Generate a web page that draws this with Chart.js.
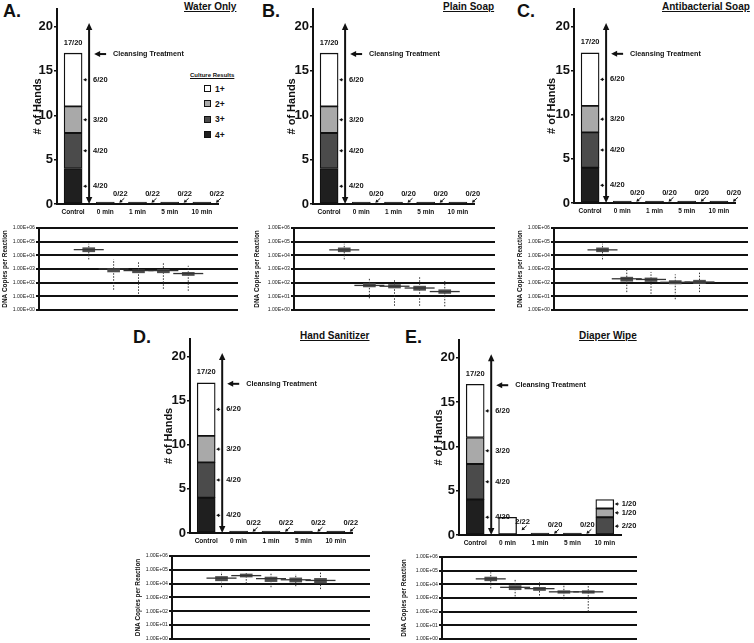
<!DOCTYPE html>
<html>
<head>
<meta charset="utf-8">
<script src="https://cdn.jsdelivr.net/npm/chart.js@4.4.1/dist/chart.umd.min.js"></script>
<style>
  body { margin: 0; background: #fff; font-family: "Liberation Sans", Arial, sans-serif; color: #111; }
  #fig { position: relative; width: 754px; height: 643px; overflow: hidden; }
  canvas { position: absolute; }
  .lbl { position: absolute; font-weight: bold; white-space: nowrap; line-height: 1; }
  .pl { font-size: 18px; }
  .tt { font-size: 10px; text-decoration: underline; }
</style>
</head>
<body>
<div id="fig">
  <div class="lbl pl" style="left:3px;top:2px">A.</div>
  <div class="lbl tt" style="left:184px;top:2px">Water Only</div>
  <div class="lbl pl" style="left:262px;top:2px">B.</div>
  <div class="lbl tt" style="left:443px;top:2px">Plain Soap</div>
  <div class="lbl pl" style="left:517px;top:2px">C.</div>
  <div class="lbl tt" style="left:662px;top:2px">Antibacterial Soap</div>
  <div class="lbl pl" style="left:133px;top:328px">D.</div>
  <div class="lbl tt" style="left:300px;top:331px">Hand Sanitizer</div>
  <div class="lbl pl" style="left:405px;top:328px">E.</div>
  <div class="lbl tt" style="left:579px;top:331px">Diaper Wipe</div>
  <div class="lbl" style="left:190px;top:72px;font-size:6px;text-decoration:underline">Culture Results</div>
  <div id="legend"></div>
</div>
<script>
// categories
const cats = ['Control', '0 min', '1 min', '5 min', '10 min'];
const grades = ['4+', '3+', '2+', '1+'];

// # of hands per culture grade (panels A-D share the same numbers)
const hands4 = [4, 0, 0, 0, 0];
const hands3 = [4, 0, 0, 0, 0];
const hands2 = [3, 0, 0, 0, 0];
const hands1 = [6, 0, 0, 0, 0];
// diaper wipe (E)
const wipe4 = [4, 0, 0, 0, 0];
const wipe3 = [4, 0, 0, 0, 2];
const wipe2 = [3, 0, 0, 0, 1];
const wipe1 = [6, 2, 0, 0, 1];

// positive / total labels
const fracWater = ['17/20', '0/22', '0/22', '0/22', '0/22'];
const fracSoap = ['17/20', '0/20', '0/20', '0/20', '0/20'];
const fracAnti = ['17/20', '0/20', '0/20', '0/20', '0/20'];
const fracSanit = ['17/20', '0/22', '0/22', '0/22', '0/22'];
const fracWipe = ['17/20', '2/22', '0/20', '0/20', null];
const ctrlSegs = ['4/20', '4/20', '3/20', '6/20'];     // 4+, 3+, 2+, 1+
const wipe10Segs = [null, '2/20', '1/20', '1/20'];

// DNA copies per reaction: median, box, whiskers
const waterMed = [2.6e4, 1.0e3, 7.6e2, 7.6e2, 4.6e2];
const waterQ1 = [1.8e4, 6.0e2, 5.2e2, 5.2e2, 3.3e2];
const waterQ3 = [3.6e4, 1.1e3, 8.6e2, 9.0e2, 5.6e2];
const waterLo = [5.0e3, 3.0e1, 1.5e1, 3.5e1, 2.5e1];
const waterHi = [7.0e4, 5.0e3, 3.2e3, 3.2e3, 1.7e3];

const soapMed = [2.5e4, 62, 54, 40, 22];
const soapQ1 = [1.8e4, 48, 40, 27, 16];
const soapQ3 = [3.5e4, 85, 72, 55, 30];
const soapLo = [5.0e3, 7, 2, 2, 1.8];
const soapHi = [7.0e4, 220, 160, 280, 130];

const antiMed = [2.5e4, 190, 170, 105, 110];
const antiQ1 = [1.8e4, 125, 120, 80, 85];
const antiQ3 = [3.5e4, 250, 220, 140, 150];
const antiLo = [5.0e3, 20, 15, 6, 20];
const antiHi = [7.0e4, 1000, 600, 400, 650];

const sanitMed = [2.5e4, 3.8e4, 2.3e4, 1.9e4, 1.7e4];
const sanitQ1 = [1.6e4, 3.0e4, 1.4e4, 1.3e4, 1.1e4];
const sanitQ3 = [3.3e4, 5.0e4, 3.0e4, 2.6e4, 2.4e4];
const sanitLo = [5.5e3, 1.0e4, 5.5e3, 6.5e3, 4.0e3];
const sanitHi = [7.0e4, 6.0e4, 5.5e4, 5.0e4, 7.0e4];

const wipeMed = [2.5e4, 6.0e3, 4.8e3, 2.8e3, 2.8e3];
const wipeQ1 = [1.8e4, 4.0e3, 3.5e3, 2.2e3, 2.2e3];
const wipeQ3 = [3.4e4, 8.0e3, 6.0e3, 3.4e3, 3.4e3];
const wipeLo = [5.0e3, 1.3e3, 1.5e3, 8.0e2, 1.0e2];
const wipeHi = [7.5e4, 2.5e4, 1.4e4, 8.0e3, 8.0e3];

const decades = [1, 10, 100, 1e3, 1e4, 1e5, 1e6];

const FONT = '"Liberation Sans", Arial, sans-serif';
const gradeColors = { '4+': '#1f1f1f', '3+': '#4b4b4b', '2+': '#a9a9a9', '1+': '#ffffff' };

Chart.defaults.font.family = FONT;
Chart.defaults.color = '#111';

// legend (panel A only)
const legend = document.getElementById('legend');
['1+', '2+', '3+', '4+'].forEach((g, i) => {
  const top = 85 + i * 15.4;
  legend.innerHTML += `<div style="position:absolute;left:204px;top:${top}px;width:5px;height:5px;border:1px solid #111;background:${gradeColors[g]}"></div>` +
    `<div class="lbl" style="left:215px;top:${top - 0.5}px;font-size:8.5px">${g}</div>`;
});

function makeCanvas(id, b) {
  const c = document.createElement('canvas');
  c.id = id; c.width = b.w; c.height = b.h;
  c.style.left = b.left + 'px'; c.style.top = b.top + 'px';
  document.getElementById('fig').appendChild(c);
  return c;
}

function arrowHead(ctx, x, y, dx, dy, len, half) {
  const px = -dy, py = dx;
  ctx.beginPath();
  ctx.moveTo(x, y);
  ctx.lineTo(x - dx * len + px * half, y - dy * len + py * half);
  ctx.lineTo(x - dx * len - px * half, y - dy * len - py * half);
  ctx.closePath();
  ctx.fill();
}

function arrow(ctx, x1, y1, x2, y2, w, len, half) {
  const d = Math.hypot(x2 - x1, y2 - y1), dx = (x2 - x1) / d, dy = (y2 - y1) / d;
  ctx.lineWidth = w;
  ctx.beginPath();
  ctx.moveTo(x1, y1);
  ctx.lineTo(x2 - dx * len * 0.8, y2 - dy * len * 0.8);
  ctx.stroke();
  arrowHead(ctx, x2, y2, dx, dy, len, half);
}

// arrows + fraction labels on the "# of Hands" charts
function handMarks(stacks, frac, segs) {
  return {
    id: 'handMarks',
    afterDatasetsDraw(chart) {
      const { ctx, scales: { x, y } } = chart;
      const half = 9;
      ctx.save();
      ctx.fillStyle = '#111';
      ctx.strokeStyle = '#111';
      ctx.textBaseline = 'middle';
      const c0 = x.getPixelForValue(0);
      const ax = c0 + 16;
      const yTop = y.getPixelForValue(20.4), yBot = y.getPixelForValue(0);
      ctx.lineWidth = 2;
      ctx.beginPath(); ctx.moveTo(ax, yTop + 5); ctx.lineTo(ax, yBot - 5); ctx.stroke();
      arrowHead(ctx, ax, yTop, 0, -1, 7, 3.2);
      arrowHead(ctx, ax, yBot, 0, 1, 7, 3.2);

      const yc = y.getPixelForValue(16.9);
      arrow(ctx, ax + 17, yc, ax + 5, yc, 2, 6, 3);
      ctx.font = 'bold 7.2px ' + FONT;
      ctx.textAlign = 'left';
      ctx.fillText('Cleansing Treatment', ax + 24, yc);

      ctx.font = 'bold 7.5px ' + FONT;
      cats.forEach((c, i) => {
        const cx = x.getPixelForValue(i);
        const total = stacks.reduce((s, a) => s + a[i], 0);
        if (segs[i]) {
          let base = 0;
          stacks.forEach((a, k) => {
            const v = a[i];
            if (v && segs[i][k]) {
              const ym = y.getPixelForValue(base + v / 2);
              const tx = i === 0 ? ax + 4 : cx + half + 8;
              arrow(ctx, cx + half + 5, ym, cx + half + 1, ym, 1, 3, 1.8);
              ctx.textAlign = 'left';
              ctx.fillText(segs[i][k], tx, ym);
            }
            base += v;
          });
        }
        if (frac[i]) {
          ctx.textAlign = 'center';
          if (i === 0) {
            ctx.fillText(frac[i], cx, y.getPixelForValue(total + 1.2));
          } else {
            const yl = y.getPixelForValue(total ? total * 0.75 : 1.1);
            ctx.fillText(frac[i], cx + 15, yl);
            arrow(ctx, cx + 19, yl + 4, cx + 14, yl + 8.5, 1, 3, 1.8);
          }
        }
      });
      ctx.restore();
    }
  };
}

function handsChart(id, b, g4, g3, g2, g1, frac, segs) {
  const stacks = [g4, g3, g2, g1];
  const totals = cats.map((c, i) => g4[i] + g3[i] + g2[i] + g1[i]);
  const nz = a => a.map(v => v || null);
  const common = { borderColor: '#111', borderWidth: 1.3, borderSkipped: false, barThickness: 18, stack: 's' };
  new Chart(makeCanvas(id, b), {
    type: 'bar',
    data: {
      labels: cats,
      datasets: [
        ...stacks.map((a, k) => ({ ...common, label: grades[k], data: nz(a), backgroundColor: gradeColors[grades[k]] })),
        { ...common, label: 'none', data: totals.map(t => t ? null : 0.22), backgroundColor: '#222', borderColor: '#222', borderWidth: 0.5 }
      ]
    },
    options: {
      responsive: false, animation: false,
      layout: { autoPadding: false, padding: { top: b.padT, right: b.padR, left: 0, bottom: 0 } },
      plugins: { legend: { display: false }, tooltip: { enabled: false } },
      scales: {
        x: {
          stacked: true,
          grid: { display: false, drawTicks: false, tickLength: 0 },
          border: { color: '#111', width: 2 },
          ticks: { font: { size: 6.5, weight: 'bold' }, color: '#111', padding: 4, autoSkip: false, maxRotation: 0 },
          afterFit: s => { s.height = b.xH; }
        },
        y: {
          stacked: true, min: 0, max: 22,
          ticks: { stepSize: 5, includeBounds: false, font: { size: 13, weight: 'bold' }, color: '#111', padding: 1 },
          grid: { drawOnChartArea: false, color: '#111', lineWidth: 1.5, tickLength: 3 },
          border: { color: '#111', width: 2 },
          title: { display: true, text: '# of Hands', font: { size: 11, weight: 'bold' }, color: '#111', padding: { top: b.tPad, bottom: 0 } },
          afterFit: s => { s.width = b.yW; }
        }
      }
    },
    plugins: [handMarks(stacks, frac, segs)]
  });
}

function sci(v) {
  const e = Math.round(Math.log10(v));
  return '1.00E+' + String(e).padStart(2, '0');
}

function dnaChart(id, b, med, q1, q3, lo, hi) {
  const pos = cats.map((c, i) => i + 1);
  const whisk = [];
  pos.forEach((x, i) => { whisk.push({ x, y: lo[i] }, { x, y: hi[i] }, { x, y: null }); });
  new Chart(makeCanvas(id, b), {
    type: 'bar',
    data: {
      datasets: [
        { type: 'scatter', order: 0, data: pos.map((x, i) => ({ x, y: med[i] })), pointStyle: 'line', pointRadius: 15, borderColor: '#333', borderWidth: 1.3 },
        { type: 'bar', order: 1, data: pos.map((x, i) => ({ x, y: [q1[i], q3[i]] })), backgroundColor: '#4f4f4f', barThickness: 12 },
        { type: 'line', order: 2, data: whisk, borderColor: '#333', borderWidth: 1, borderDash: [1.5, 1.5], pointRadius: 0, spanGaps: false }
      ]
    },
    options: {
      responsive: false, animation: false,
      layout: { autoPadding: false, padding: { top: b.padT, right: b.padR, left: 0, bottom: b.padB } },
      plugins: { legend: { display: false }, tooltip: { enabled: false } },
      scales: {
        x: { type: 'linear', min: 0, max: 6, display: false },
        y: {
          type: 'logarithmic', min: 1, max: 1e6,
          afterBuildTicks: s => { s.ticks = decades.map(v => ({ value: v })); },
          ticks: { callback: v => sci(v), font: { size: 5.2 }, color: '#222', padding: 1, autoSkip: false },
          grid: { color: '#111', lineWidth: 2, tickLength: 3 },
          border: { color: '#111', width: 2 },
          title: { display: true, text: 'DNA Copies per Reaction', font: { size: 6.4, weight: 'bold' }, color: '#111', padding: { top: b.tPad, bottom: 0 } },
          afterFit: s => { s.width = b.yW; }
        }
      }
    }
  });
}

handsChart('topA', { left: 0, top: 0, w: 250, h: 222, yW: 57, padR: 32, padT: 8, xH: 18, tPad: 31 }, hands4, hands3, hands2, hands1, fracWater, [ctrlSegs, null, null, null, null]);
handsChart('topB', { left: 250, top: 0, w: 254, h: 222, yW: 63, padR: 30, padT: 7, xH: 18, tPad: 35 }, hands4, hands3, hands2, hands1, fracSoap, [ctrlSegs, null, null, null, null]);
handsChart('topC', { left: 500, top: 0, w: 254, h: 222, yW: 74, padR: 19, padT: 5, xH: 19, tPad: 45 }, hands4, hands3, hands2, hands1, fracAnti, [ctrlSegs, null, null, null, null]);
handsChart('topD', { left: 130, top: 330, w: 240, h: 222, yW: 60, padR: 18, padT: 5, xH: 19, tPad: 32 }, hands4, hands3, hands2, hands1, fracSanit, [ctrlSegs, null, null, null, null]);
handsChart('topE', { left: 400, top: 330, w: 250, h: 222, yW: 59, padR: 29, padT: 10, xH: 17, tPad: 32 }, wipe4, wipe3, wipe2, wipe1, fracWipe, [ctrlSegs, null, null, null, wipe10Segs]);

dnaChart('dnaA', { left: 0, top: 222, w: 250, h: 92, yW: 39, padR: 12, padT: 6, padB: 4, tPad: 1.5 }, waterMed, waterQ1, waterQ3, waterLo, waterHi);
dnaChart('dnaB', { left: 250, top: 222, w: 254, h: 92, yW: 44, padR: 9, padT: 6, padB: 4, tPad: 3 }, soapMed, soapQ1, soapQ3, soapLo, soapHi);
dnaChart('dnaC', { left: 500, top: 222, w: 254, h: 92, yW: 54, padR: 6, padT: 6, padB: 4, tPad: 16 }, antiMed, antiQ1, antiQ3, antiLo, antiHi);
dnaChart('dnaD', { left: 130, top: 550, w: 250, h: 93, yW: 42, padR: 10, padT: 6, padB: 4, tPad: 4 }, sanitMed, sanitQ1, sanitQ3, sanitLo, sanitHi);
dnaChart('dnaE', { left: 400, top: 550, w: 250, h: 93, yW: 42, padR: 13, padT: 7, padB: 4, tPad: 0 }, wipeMed, wipeQ1, wipeQ3, wipeLo, wipeHi);
</script>
</body>
</html>
